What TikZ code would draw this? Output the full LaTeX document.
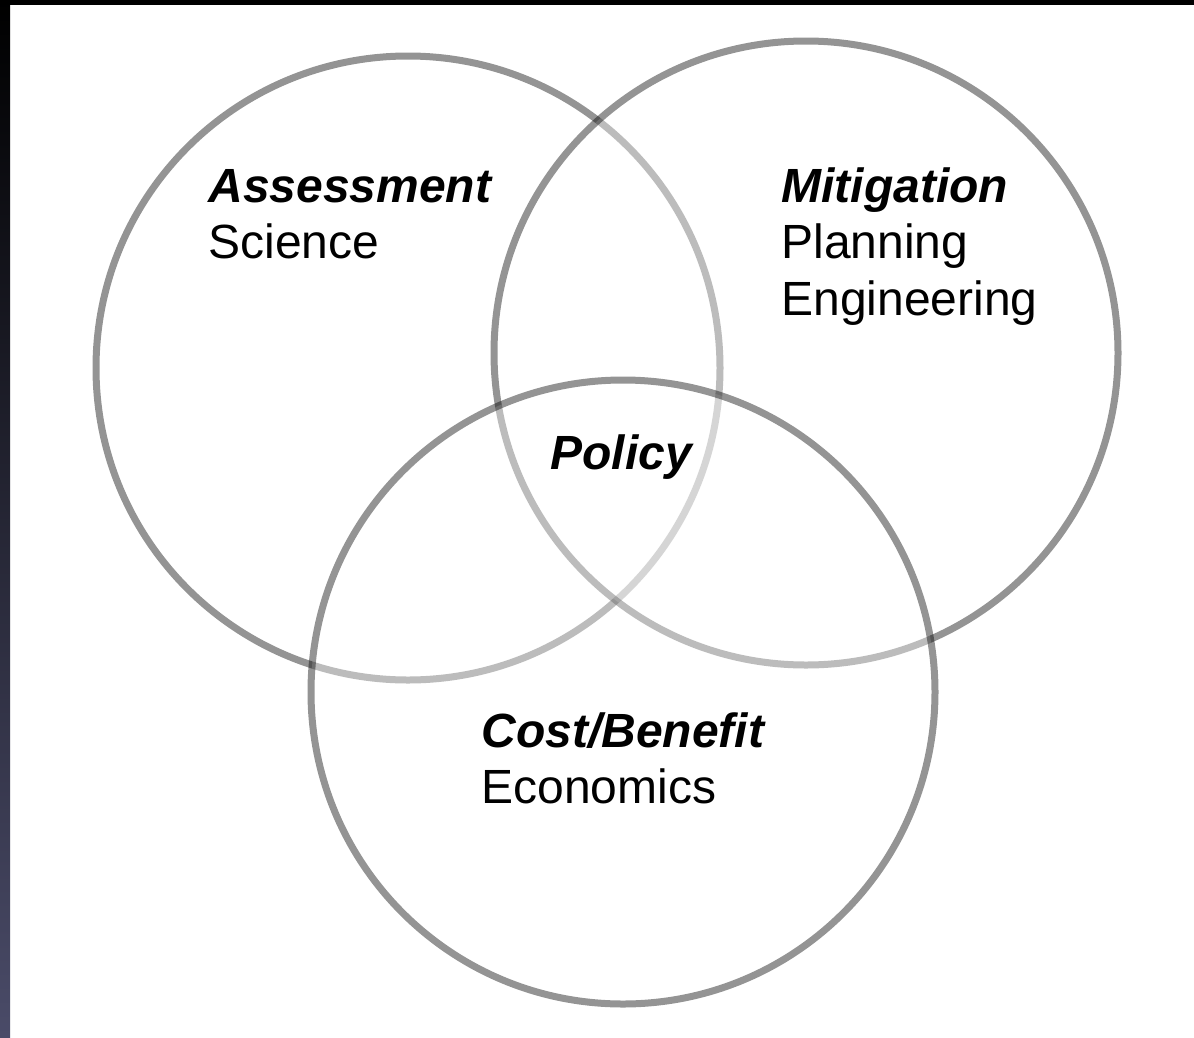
\documentclass[tikz,border=0pt]{standalone}
\usepackage{fontspec}
\setmainfont{Liberation Sans}
\usetikzlibrary{positioning}

\begin{document}
\begin{tikzpicture}[%
    x=1pt, y=-1pt,              % One unit is one pixel of the page, y runs down
    line width=7pt,             % Heavy rings
    ]
% -------------------------------------------------
% A few styles
\tikzset{
  ring/.style={circle, draw=black, draw opacity=0.42, fill=white,
               fill opacity=0.38, minimum size=624pt, inner sep=0pt},
  head/.style={anchor=base west, inner sep=0pt,
               font={\fontsize{48}{57}\selectfont\bfseries\itshape}},
  body/.style={anchor=base west, inner sep=0pt,
               font={\fontsize{48}{57}\selectfont}},
}
% -------------------------------------------------
% Page and dark frame
\useasboundingbox (0,0) rectangle (1194,1037);
\fill[white] (0,0) rectangle (1194,1037);
\fill[black] (0,0) rectangle (1194,5);
\shade[top color=black, middle color={rgb,255:red,14;green,14;blue,28},
  bottom color={rgb,255:red,74;green,75;blue,104}]
  (0,0) rectangle (10,1037);

% -------------------------------------------------
% The three rings, later ones wash out the earlier
\node [ring] (assessC) at (408,368) {};
\node [ring] (mitigC) at (806,353) {};
\node [ring] (costC) at (623,692) {};

% -------------------------------------------------
% Labels
\node [head] (assess) at (205,202) {Assessment};
\node [body] (science) at (205,258) {Science};

\node [head] (mitig) at (778,202) {Mitigation};
\node [body] (plan) at (778,258) {Planning};
\node [body] (engin) at (778,315) {Engineering};

\node [head] (policy) at (547,469) {Policy};

\node [head] (cost) at (478,747) {Cost/Benefit};
\node [body] (econ) at (478,803) {Economics};

% -------------------------------------------------
\end{tikzpicture}
\end{document}
